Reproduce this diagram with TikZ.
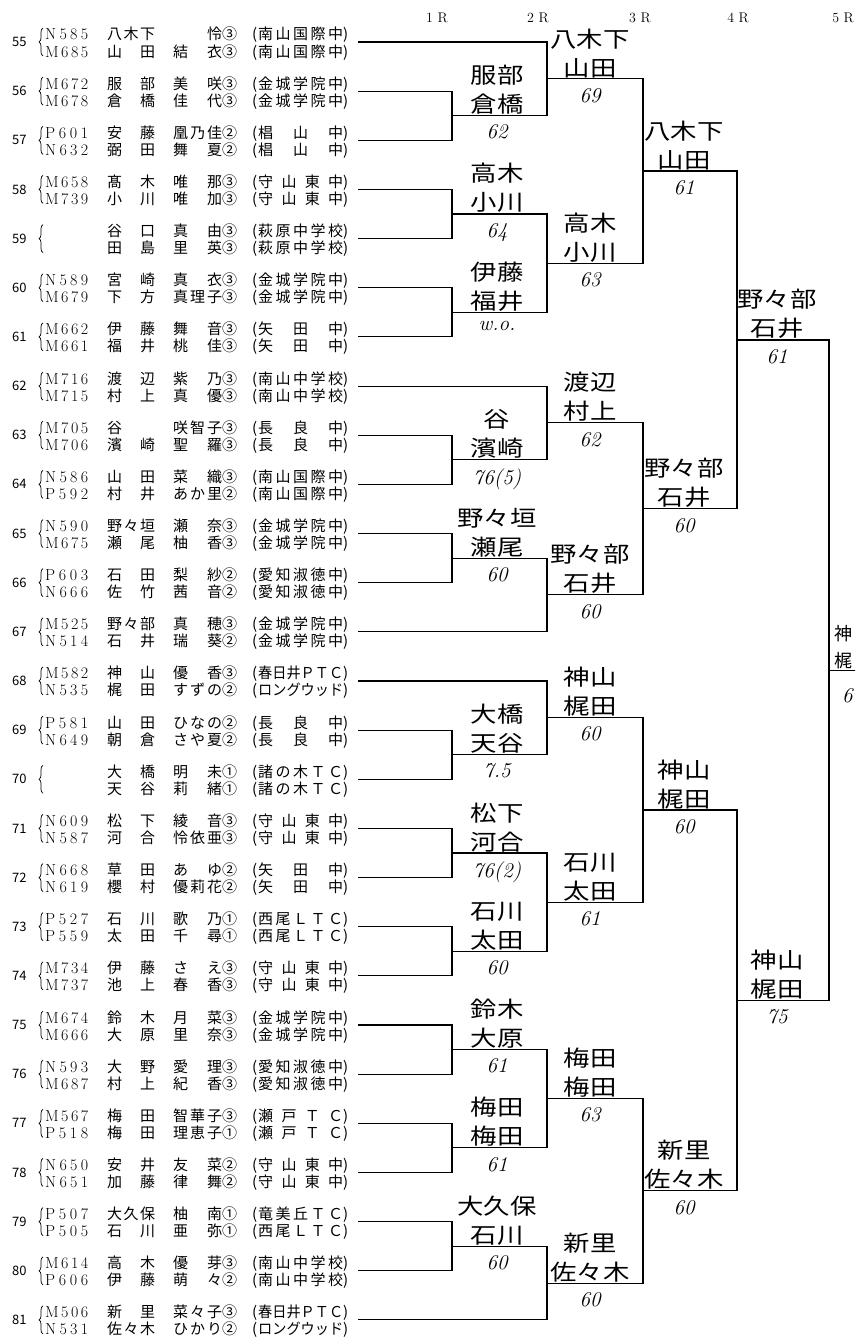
\documentclass[tikz,border=0pt]{standalone}
\usepackage{fontspec}
\usepackage{graphicx}
\newfontfamily\jpfont{Noto Sans CJK JP}
\newfontfamily\handfont[FakeStretch=1.2]{Noto Sans CJK JP}
\usetikzlibrary{calc,positioning,decorations.pathreplacing}

\makeatletter
\def\sprd@a#1{#1\sprd@b}
\def\sprd@b#1{\ifx\relax#1\else\hfil#1\expandafter\sprd@b\fi}
\newcommand\spreadbox[2]{\makebox[#1][s]{\if\relax\detokenize{#2}\relax\else\sprd@a#2\relax\fi}}
\def\givname#1/#2\relax{\spreadbox{49pt}{#1}\makebox[15pt][l]{#2}}
\makeatother
% school name: spread out, or squeezed when too long
\newcommand\schbox[1]{\sbox0{#1}\ifdim\wd0>82pt \resizebox{85pt}{\height}{#1}\else\spreadbox{85pt}{#1}\fi}

% one printed line: id, family, given/grade, school
\newcommand\plline[4]{%
  {\rmfamily\fontsize{16}{16}\selectfont\spreadbox{43pt}{#1}}\hspace{19pt}%
  \spreadbox{48pt}{#2}\hspace{18pt}\givname#3\relax\hspace{15pt}%
  \makebox[6pt][l]{(}\schbox{#4}\makebox[5pt][r]{)}}

% one drawn pair of players
\newcommand\pairing[9]{%
  \pgfmathsetmacro\cy{42+49.15*(#1-55)}%
  \node[seedno] (no#1) at (12,\cy) {#1};
  \draw[pairbrace] (43,\cy+14) -- (43,\cy-14);
  \node[plyr] (pl#1a) at (45,\cy-2) {\plline{#2}{#3}{#4}{#5}};
  \node[plyr] (pl#1b) at (45,\cy+15) {\plline{#6}{#7}{#8}{#9}};
  \coordinate (e#1) at (358,\cy);
}

% a match: winner coordinate on the round column, between its two inputs
\newcommand\match[4]{%
  \coordinate (mid#1) at ($(#3)!.5!(#4)$);
  \coordinate (#1) at (#2 |- mid#1);
  \draw[bline] (#3) -| (#1) |- (#4);
}

% handwritten result after a match
\newcommand\res[4]{%
  \node[win] (w#1) at ([xshift=#2pt,yshift=1pt]#1) {#3};
  \node[score] (s#1) at ([xshift=#2pt,yshift=-9pt]#1) {#4};
}

\begin{document}
\begin{tikzpicture}[x=1pt,y=-1pt,
    bline/.style={line width=1.1pt},
    plyr/.style={anchor=base west, inner sep=0pt, font=\jpfont\fontsize{15}{15}\selectfont},
    seedno/.style={anchor=west, inner sep=0pt, font=\jpfont\fontsize{13}{13}\selectfont},
    pairbrace/.style={decorate, decoration={brace, amplitude=4pt}, line width=0.7pt},
    win/.style={anchor=south, align=center, inner sep=0pt, font=\handfont\fontsize{22}{29}\selectfont},
    score/.style={anchor=north, inner sep=0pt, font=\itshape\fontsize{21}{21}\selectfont},
    rhead/.style={inner sep=0pt, font=\fontsize{14}{14}\selectfont}]
  \useasboundingbox (0,0) rectangle (855,1338);
  \clip (0,0) rectangle (855,1338);
  \fill[white] (0,0) rectangle (855,1338);

  % round headers
  \node[rhead] (hd1) at (437,18) {1\ R};
  \node[rhead] (hd2) at (538,18) {2\ R};
  \node[rhead] (hd3) at (640,18) {3\ R};
  \node[rhead] (hd4) at (738,18) {4\ R};
  \node[rhead] (hd5) at (843,18) {5\ R};

  % draw list
  \pairing{55}{N585}{八木下}{\hfil 怜/③}{南山国際中}{M685}{山田}{結衣/③}{南山国際中}
  \pairing{56}{M672}{服部}{美咲/③}{金城学院中}{M678}{倉橋}{佳代/③}{金城学院中}
  \pairing{57}{P601}{安藤}{凰乃佳/②}{椙山中}{N632}{弼田}{舞夏/②}{椙山中}
  \pairing{58}{M658}{髙木}{唯那/③}{守山東中}{M739}{小川}{唯加/③}{守山東中}
  \pairing{59}{}{谷口}{真由/③}{萩原中学校}{}{田島}{里英/③}{萩原中学校}
  \pairing{60}{N589}{宮崎}{真衣/③}{金城学院中}{M679}{下方}{真理子/③}{金城学院中}
  \pairing{61}{M662}{伊藤}{舞音/③}{矢田中}{M661}{福井}{桃佳/③}{矢田中}
  \pairing{62}{M716}{渡辺}{紫乃/③}{南山中学校}{M715}{村上}{真優/③}{南山中学校}
  \pairing{63}{M705}{谷}{咲智子/③}{長良中}{M706}{濱崎}{聖羅/③}{長良中}
  \pairing{64}{N586}{山田}{菜織/③}{南山国際中}{P592}{村井}{あか里/②}{南山国際中}
  \pairing{65}{N590}{野々垣}{瀬奈/③}{金城学院中}{M675}{瀬尾}{柚香/③}{金城学院中}
  \pairing{66}{P603}{石田}{梨紗/②}{愛知淑徳中}{N666}{佐竹}{茜音/②}{愛知淑徳中}
  \pairing{67}{M525}{野々部}{真穂/③}{金城学院中}{N514}{石井}{瑞葵/②}{金城学院中}
  \pairing{68}{M582}{神山}{優香/③}{春日井ＰＴＣ}{N535}{梶田}{すずの/②}{ロングウッド}
  \pairing{69}{P581}{山田}{ひなの/②}{長良中}{N649}{朝倉}{さや夏/②}{長良中}
  \pairing{70}{}{大橋}{明未/①}{諸の木ＴＣ}{}{天谷}{莉緒/①}{諸の木ＴＣ}
  \pairing{71}{N609}{松下}{綾音/③}{守山東中}{N587}{河合}{怜依亜/③}{守山東中}
  \pairing{72}{N668}{草田}{あゆ/②}{矢田中}{N619}{櫻村}{優莉花/②}{矢田中}
  \pairing{73}{P527}{石川}{歌乃/①}{西尾ＬＴＣ}{P559}{太田}{千尋/①}{西尾ＬＴＣ}
  \pairing{74}{M734}{伊藤}{さえ/③}{守山東中}{M737}{池上}{春香/③}{守山東中}
  \pairing{75}{M674}{鈴木}{月菜/③}{金城学院中}{M666}{大原}{里奈/③}{金城学院中}
  \pairing{76}{N593}{大野}{愛理/③}{愛知淑徳中}{M687}{村上}{紀香/③}{愛知淑徳中}
  \pairing{77}{M567}{梅田}{智華子/③}{瀬戸ＴＣ}{P518}{梅田}{理恵子/①}{瀬戸ＴＣ}
  \pairing{78}{N650}{安井}{友菜/②}{守山東中}{N651}{加藤}{律舞/②}{守山東中}
  \pairing{79}{P507}{大久保}{柚南/①}{竜美丘ＴＣ}{P505}{石川}{亜弥/①}{西尾ＬＴＣ}
  \pairing{80}{M614}{高木}{優芽/③}{南山中学校}{P606}{伊藤}{萌々/②}{南山中学校}
  \pairing{81}{M506}{新里}{菜々子/③}{春日井ＰＴＣ}{N531}{佐々木}{ひかり/②}{ロングウッド}

  % round columns
  \coordinate (r1) at (452,0);
  \coordinate (r2) at (547,0);
  \coordinate (r3) at (643,0);
  \coordinate (r4) at (737,0);
  \coordinate (r5) at (829,0);
  \coordinate (edge) at (870,0);

  % bracket
  \match{a1}{r1}{e56}{e57}
  \match{a2}{r1}{e58}{e59}
  \match{a3}{r1}{e60}{e61}
  \match{a4}{r1}{e63}{e64}
  \match{a5}{r1}{e65}{e66}
  \match{a6}{r1}{e69}{e70}
  \match{a7}{r1}{e71}{e72}
  \match{a8}{r1}{e73}{e74}
  \match{a9}{r1}{e75}{e76}
  \match{a10}{r1}{e77}{e78}
  \match{a11}{r1}{e79}{e80}
  \match{b1}{r2}{e55}{a1}
  \match{b2}{r2}{a2}{a3}
  \match{b3}{r2}{e62}{a4}
  \match{b4}{r2}{a5}{e67}
  \match{b5}{r2}{e68}{a6}
  \match{b6}{r2}{a7}{a8}
  \match{b7}{r2}{a9}{a10}
  \match{b8}{r2}{a11}{e81}
  \match{c1}{r3}{b1}{b2}
  \match{c2}{r3}{b3}{b4}
  \match{c3}{r3}{b5}{b6}
  \match{c4}{r3}{b7}{b8}
  \match{d1}{r4}{c1}{c2}
  \match{d2}{r4}{c3}{c4}
  \match{f1}{r5}{d1}{d2}
  \draw[bline] (f1) -- (edge |- f1);

  % results
  \res{a1}{45}{服部\\倉橋}{62}
  \res{a2}{45}{高木\\小川}{64}
  \res{a3}{45}{伊藤\\福井}{w.o.}
  \res{a4}{45}{谷\\濱崎}{76(5)}
  \res{a5}{45}{野々垣\\瀬尾}{60}
  \res{a6}{45}{大橋\\天谷}{7.5}
  \res{a7}{45}{松下\\河合}{76(2)}
  \res{a8}{45}{石川\\太田}{60}
  \res{a9}{45}{鈴木\\大原}{61}
  \res{a10}{45}{梅田\\梅田}{61}
  \res{a11}{45}{大久保\\石川}{60}
  \res{b1}{43}{八木下\\山田}{69}
  \res{b2}{43}{高木\\小川}{63}
  \res{b3}{43}{渡辺\\村上}{62}
  \res{b4}{43}{野々部\\石井}{60}
  \res{b5}{43}{神山\\梶田}{60}
  \res{b6}{43}{石川\\太田}{61}
  \res{b7}{43}{梅田\\梅田}{63}
  \res{b8}{43}{新里\\佐々木}{60}
  \res{c1}{41}{八木下\\山田}{61}
  \res{c2}{41}{野々部\\石井}{60}
  \res{c3}{41}{神山\\梶田}{60}
  \res{c4}{41}{新里\\佐々木}{60}
  \res{d1}{40}{野々部\\石井}{61}
  \res{d2}{40}{神山\\梶田}{75}
  \node[win, anchor=south west, align=left, font=\jpfont\fontsize{18}{27}\selectfont] (wf1) at ([xshift=5pt,yshift=1pt]f1) {神\\梶};
  \node[score, anchor=north west] (sf1) at ([xshift=13pt,yshift=-18pt]f1) {6};
\end{tikzpicture}
\end{document}
